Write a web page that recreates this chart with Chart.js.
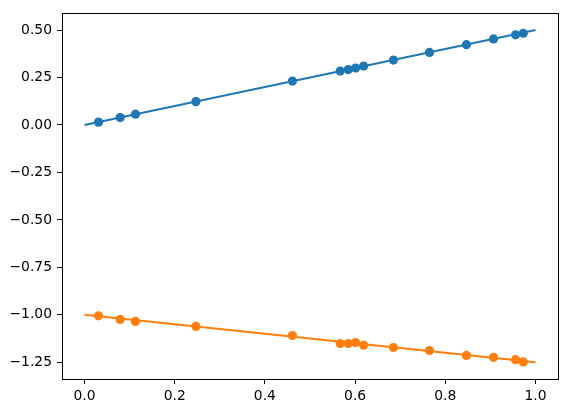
<!DOCTYPE html>
<html>
<head>
<meta charset="utf-8">
<script src="https://cdn.jsdelivr.net/npm/chart.js@4/dist/chart.umd.min.js"></script>
<style>
  html, body { margin: 0; padding: 0; background: #fff; }
  #wrap { width: 568px; height: 413px; }
</style>
</head>
<body>
<div id="wrap"><canvas id="c" width="568" height="413"></canvas></div>
<script>
// sample x positions
const xs = [0.031, 0.079, 0.113, 0.247, 0.461, 0.567, 0.585, 0.601, 0.619, 0.685, 0.765, 0.847, 0.907, 0.956, 0.973];
const blueY = [0.015, 0.039, 0.057, 0.123, 0.231, 0.284, 0.292, 0.300, 0.310, 0.342, 0.382, 0.423, 0.453, 0.475, 0.483];
const orangeY = [-1.005, -1.024, -1.035, -1.061, -1.109, -1.151, -1.151, -1.146, -1.160, -1.172, -1.188, -1.214, -1.224, -1.236, -1.248];

// fitted lines, endpoints
const lineX = [0, 1];
const blueLineY = [0, 0.5];
const orangeLineY = [-1, -1.25];

const xTicks = [0, 0.2, 0.4, 0.6, 0.8, 1.0];
const xTickLabels = ['0.0', '0.2', '0.4', '0.6', '0.8', '1.0'];
const yTicks = [-1.25, -1.0, -0.75, -0.5, -0.25, 0, 0.25, 0.5];
const yTickLabels = ['\u22121.25', '\u22121.00', '\u22120.75', '\u22120.50', '\u22120.25', '0.00', '0.25', '0.50'];

const BLUE = '#1f77b4';
const ORANGE = '#ff7f0e';

const pts = (x, y) => x.map((v, i) => ({ x: v, y: y[i] }));

// matplotlib style box around the plot area
const frame = {
    id: 'frame',
    afterDraw(chart) {
        const { ctx, chartArea: a } = chart;
        ctx.save();
        ctx.strokeStyle = '#000';
        ctx.lineWidth = 1;
        ctx.strokeRect(Math.round(a.left) + 0.5, Math.round(a.top) + 0.5,
            Math.round(a.right - a.left), Math.round(a.bottom - a.top));
        ctx.restore();
    }
};

const font = { family: 'DejaVu Sans', size: 13.9 };
const gridOpts = { drawOnChartArea: false, drawTicks: true, tickLength: 5, tickColor: '#000', tickWidth: 1 };

new Chart(document.getElementById('c'), {
    type: 'scatter',
    data: {
        datasets: [
            { data: pts(xs, blueY), backgroundColor: BLUE, borderColor: BLUE, pointRadius: 4.6, borderWidth: 0, order: 1 },
            { data: pts(xs, orangeY), backgroundColor: ORANGE, borderColor: ORANGE, pointRadius: 4.6, borderWidth: 0, order: 1 },
            { type: 'line', data: pts(lineX, blueLineY), borderColor: BLUE, borderWidth: 2.1, pointRadius: 0, fill: false, order: 2 },
            { type: 'line', data: pts(lineX, orangeLineY), borderColor: ORANGE, borderWidth: 2.1, pointRadius: 0, fill: false, order: 2 }
        ]
    },
    options: {
        responsive: false,
        animation: false,
        events: [],
        layout: { padding: { top: 10, right: 10, left: 0, bottom: 0 } },
        plugins: { legend: { display: false }, tooltip: { enabled: false } },
        scales: {
            x: {
                type: 'linear', min: -0.05, max: 1.05,
                afterBuildTicks: s => { s.ticks = xTicks.map(v => ({ value: v })); },
                afterFit: s => { s.height = 34; },
                grid: gridOpts,
                border: { display: false },
                ticks: { color: '#000', font, padding: 4, maxRotation: 0,
                    callback: (v, i) => xTickLabels[i] }
            },
            y: {
                type: 'linear', min: -1.338, max: 0.588,
                afterBuildTicks: s => { s.ticks = yTicks.map(v => ({ value: v })); },
                afterFit: s => { s.width = 62; },
                grid: gridOpts,
                border: { display: false },
                ticks: { color: '#000', font, padding: 5,
                    callback: (v, i) => yTickLabels[i] }
            }
        }
    },
    plugins: [frame]
});
</script>
</body>
</html>
